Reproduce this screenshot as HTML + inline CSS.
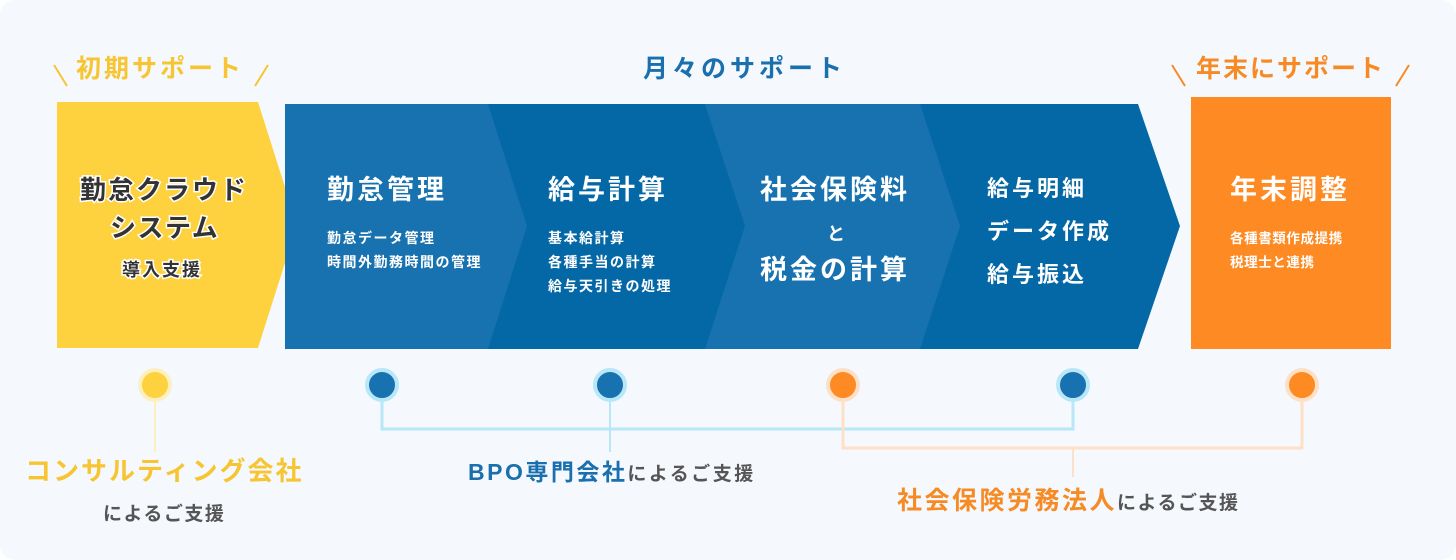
<!DOCTYPE html>
<html><head><meta charset="utf-8"><style>
html,body{margin:0;padding:0;background:#fff;}
svg{display:block;}
text{font-family:"Liberation Sans","Noto Sans CJK JP",sans-serif;font-weight:bold;}
</style></head><body>
<svg width="1456" height="560" viewBox="0 0 1456 560" xmlns="http://www.w3.org/2000/svg">
<rect x="0" y="0" width="1456" height="560" rx="14" fill="#f5f9fd"/>
<!-- headers -->
<g stroke="#f7c531" stroke-width="2"><line x1="54" y1="65" x2="67" y2="86"/><line x1="268" y1="65" x2="255" y2="86"/></g>
<text x="76" y="77" font-size="25" fill="#f7c531" letter-spacing="3">初期サポート</text>
<text x="643" y="77" font-size="25" fill="#1a6fae" letter-spacing="4">月々のサポート</text>
<g stroke="#f68b26" stroke-width="2"><line x1="1172" y1="65" x2="1185" y2="86"/><line x1="1409" y1="65" x2="1396" y2="86"/></g>
<text x="1196" y="77" font-size="25" fill="#f68b26" letter-spacing="2">年末にサポート</text>
<!-- yellow -->
<polygon points="57,102 258,102 297,225 258,348 57,348" fill="#fdd23e"/>
<g font-size="26" fill="#333" stroke="#fff" stroke-width="3" paint-order="stroke">
<text x="80" y="199" letter-spacing="2">勤怠クラウド</text>
<text x="110" y="237" letter-spacing="1.5">システム</text>
<text x="122" y="276" font-size="18" letter-spacing="2">導入支援</text>
</g>
<!-- blue chevrons -->
<polygon points="920,104 1138,104 1180,226 1138,349 920,349" fill="#0568a6"/>
<polygon points="705,104 920,104 960,226 920,349 705,349" fill="#1872b0"/>
<polygon points="488,104 705,104 745,226 705,349 488,349" fill="#0568a6"/>
<polygon points="285,104 488,104 527,226 488,349 285,349" fill="#1872b0"/>
<g fill="#fff">
<text x="327" y="199" font-size="27" letter-spacing="3">勤怠管理</text>
<text x="327" y="243" font-size="14" font-weight="normal" letter-spacing="1.5">勤怠データ管理</text>
<text x="327" y="267" font-size="14" font-weight="normal" letter-spacing="1.5">時間外勤務時間の管理</text>
<text x="548" y="199" font-size="27" letter-spacing="3">給与計算</text>
<text x="548" y="243" font-size="14" font-weight="normal" letter-spacing="1.5">基本給計算</text>
<text x="548" y="267" font-size="14" font-weight="normal" letter-spacing="1.5">各種手当の計算</text>
<text x="548" y="291" font-size="14" font-weight="normal" letter-spacing="1.5">給与天引きの処理</text>
<text x="760" y="199" font-size="27" letter-spacing="3">社会保険料</text>
<text x="836" y="240" font-size="18" text-anchor="middle">と</text>
<text x="760" y="279" font-size="27" letter-spacing="3">税金の計算</text>
<text x="987" y="196" font-size="22" letter-spacing="3">給与明細</text>
<text x="987" y="239" font-size="22" letter-spacing="3">データ作成</text>
<text x="987" y="282" font-size="22" letter-spacing="3">給与振込</text>
</g>
<!-- orange -->
<rect x="1191" y="97" width="200" height="252" fill="#fd8a23"/>
<g fill="#fff">
<text x="1230" y="199" font-size="27" letter-spacing="3">年末調整</text>
<text x="1230" y="243" font-size="13.5" font-weight="normal" letter-spacing="0.6">各種書類作成提携</text>
<text x="1230" y="267" font-size="13.5" font-weight="normal" letter-spacing="0.6">税理士と連携</text>
</g>
<!-- connectors -->
<line x1="155" y1="385" x2="155" y2="452" stroke="#fdf0c0" stroke-width="2"/>
<polyline points="382,385 382,429 1073,429 1073,385" fill="none" stroke="#b8e8f7" stroke-width="3"/>
<line x1="610" y1="385" x2="610" y2="452" stroke="#b8e8f7" stroke-width="2"/>
<polyline points="843,385 843,448 1302,448 1302,385" fill="none" stroke="#fde0c6" stroke-width="3"/>
<line x1="1073" y1="448" x2="1073" y2="477" stroke="#fde0c6" stroke-width="2"/>
<g stroke-width="4">
<circle cx="155" cy="385" r="15" fill="#fdd23e" stroke="#fdf0c0"/>
<circle cx="382" cy="385" r="15" fill="#1872b0" stroke="#b8e8f7"/>
<circle cx="610" cy="385" r="15" fill="#1872b0" stroke="#b8e8f7"/>
<circle cx="843" cy="385" r="15" fill="#fd8a23" stroke="#fde0c6"/>
<circle cx="1073" cy="385" r="15" fill="#1872b0" stroke="#b8e8f7"/>
<circle cx="1302" cy="385" r="15" fill="#fd8a23" stroke="#fde0c6"/>
</g>
<text x="25" y="480" font-size="26" fill="#f7c531" letter-spacing="2">コンサルティング会社</text>
<text x="103" y="520" font-size="19" fill="#555" letter-spacing="1.5">によるご支援</text>
<text x="468" y="480" font-size="23" fill="#1a6fae" letter-spacing="2.5">BPO専門会社<tspan font-size="19" fill="#555" letter-spacing="2.5">によるご支援</tspan></text>
<text x="897" y="509" font-size="25" fill="#f68b26" letter-spacing="2.5">社会保険労務法人<tspan font-size="19" fill="#555" letter-spacing="1.5">によるご支援</tspan></text>
</svg>
</body></html>
